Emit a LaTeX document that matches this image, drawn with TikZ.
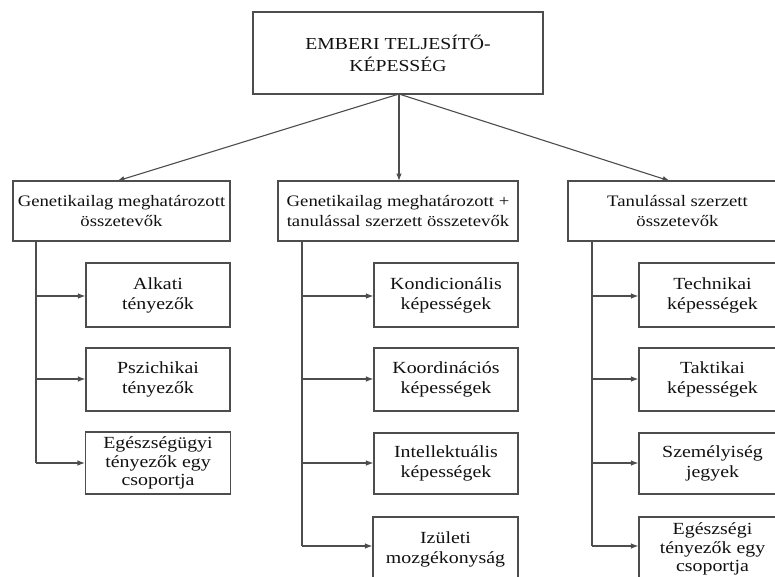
\documentclass[tikz,border=0pt]{standalone}
\usepackage{fontspec}
\setmainfont{Liberation Serif}[FakeStretch=1.17]
\usetikzlibrary{arrows.meta}
\definecolor{ln}{HTML}{4D4D4D}
\definecolor{tx}{HTML}{111111}
\tikzset{
  box/.style={draw=ln, line width=1.1pt, rectangle, align=center, text=tx, inner sep=0pt,
    font=\fontsize{16}{20}\selectfont},
  topbox/.style={box, font=\fontsize{16.8}{22}\selectfont},
  kid/.style={box, font=\fontsize{17}{20}\selectfont},
  kidthree/.style={box, font=\fontsize{17}{18.5}\selectfont},
  conn/.style={draw=ln, line width=1.1pt},
  arr/.style={conn, -{Latex[length=7.5pt,width=5.5pt]}},
}
\begin{document}
\begin{tikzpicture}[x=1pt,y=-1pt]
\useasboundingbox (0,0) rectangle (775,576);
\clip (0,0) rectangle (775,576);
\fill[white] (0,0) rectangle (775,576);
% top
\node[topbox, minimum width=290pt, minimum height=82pt] (top) at (398,53) {EMBERI TELJESÍTŐ-\\KÉPESSÉG};
% headers
\node[box, minimum width=217pt, minimum height=60pt] (hl) at (121.5,211) {Genetikailag meghatározott\\összetevők};
\node[box, minimum width=240pt, minimum height=60pt] (hm) at (398,211) {Genetikailag meghatározott +\\tanulással szerzett összetevők};
\node[box, minimum width=219pt, minimum height=60pt] (hr) at (677.5,211) {Tanulással szerzett\\összetevők};
% left children
\node[kid, minimum width=144pt, minimum height=64pt] (l1) at (158,295) {Alkati\\tényezők};
\node[kid, minimum width=144pt, minimum height=63pt] (l2) at (158,379.5) {Pszichikai\\tényezők};
\node[kidthree, minimum width=145pt, minimum height=62pt] (l3) at (158,463) {Egészségügyi\\tényezők egy\\csoportja};
% middle children
\node[kid, minimum width=144pt, minimum height=64pt] (m1) at (446,295) {Kondicionális\\képességek};
\node[kid, minimum width=144pt, minimum height=63pt] (m2) at (446,379.5) {Koordinációs\\képességek};
\node[kid, minimum width=144pt, minimum height=61pt] (m3) at (446,463.5) {Intellektuális\\képességek};
\node[kid, minimum width=145pt, minimum height=64pt] (m4) at (445.5,549) {Izületi\\mozgékonyság};
% right children
\node[kid, minimum width=147pt, minimum height=64pt] (r1) at (712.5,295) {Technikai\\képességek};
\node[kid, minimum width=147pt, minimum height=63pt] (r2) at (712.5,379.5) {Taktikai\\képességek};
\node[kid, minimum width=147pt, minimum height=61pt] (r3) at (712.5,463.5) {Személyiség\\jegyek};
\node[kidthree, minimum width=147pt, minimum height=64pt] (r4) at (712.5,549) {Egészségi\\tényezők egy\\csoportja};
% top arrows
\coordinate (ts) at (399,94);
\draw[arr] (ts) -- (117,181);
\draw[arr] (ts) -- (399,181);
\draw[arr] (ts) -- (670,181);
% trunks
\draw[conn] (hl.south -| 36,0) -- (36,463);
\draw[conn] (hm.south -| 302,0) -- (302,546);
\draw[conn] (hr.south -| 592,0) -- (592,546);
% branches
\draw[arr] (36,296) -- (l1.west |- 0,296);
\draw[arr] (36,379) -- (l2.west |- 0,379);
\draw[arr] (36,463) -- (l3.west |- 0,463);
\draw[arr] (302,296) -- (m1.west |- 0,296);
\draw[arr] (302,379) -- (m2.west |- 0,379);
\draw[arr] (302,463) -- (m3.west |- 0,463);
\draw[arr] (302,546) -- (m4.west |- 0,546);
\draw[arr] (592,296) -- (r1.west |- 0,296);
\draw[arr] (592,379) -- (r2.west |- 0,379);
\draw[arr] (592,463) -- (r3.west |- 0,463);
\draw[arr] (592,546) -- (r4.west |- 0,546);
\end{tikzpicture}
\end{document}
